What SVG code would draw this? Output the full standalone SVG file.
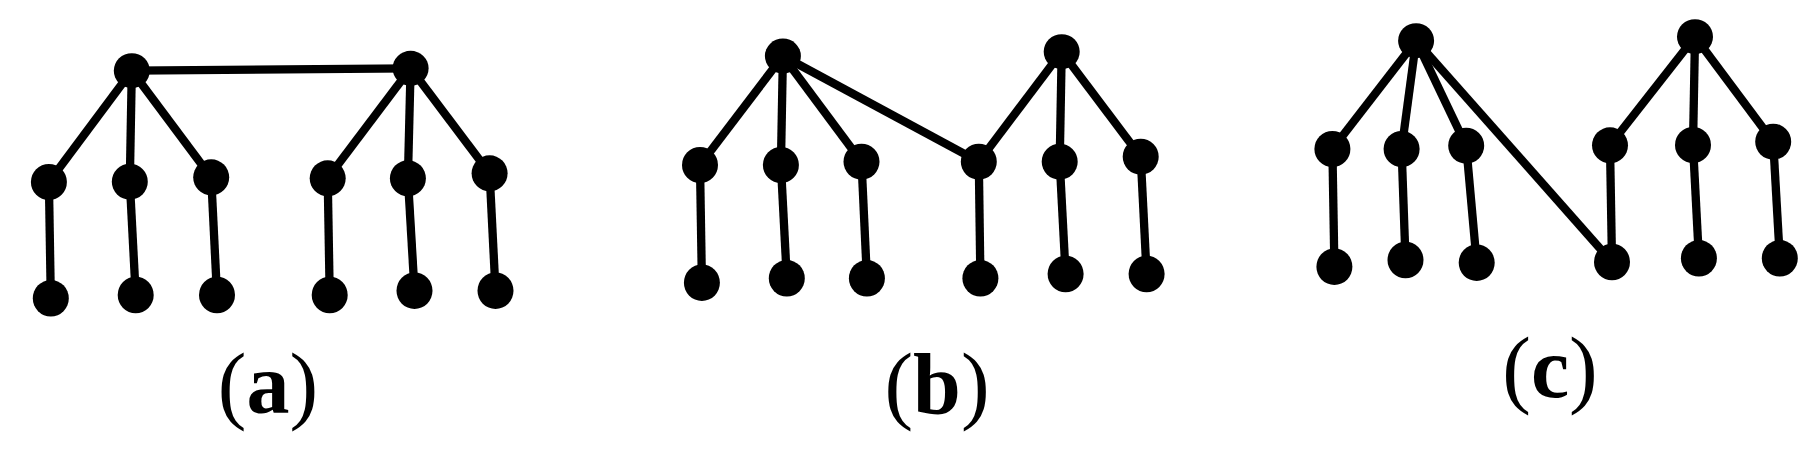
<svg xmlns="http://www.w3.org/2000/svg" width="1819" height="455" viewBox="0 0 1819 455">
<style>
.e{stroke:#000;stroke-width:8.3;fill:none}
.n{fill:#000}
.lbl{font-family:"Liberation Serif","Times New Roman",serif;font-size:86px;font-weight:normal;fill:#000;text-anchor:middle}
.b{font-weight:bold}
</style>
<rect width="1819" height="455" fill="#fff"/>
<g id="connectors">
<line class="e" x1="131.8" y1="70.7" x2="410.6" y2="68.3"/>
<line class="e" x1="131.8" y1="70.7" x2="48.9" y2="182"/>
<line class="e" x1="131.8" y1="70.7" x2="129.8" y2="181.7"/>
<line class="e" x1="131.8" y1="70.7" x2="211.2" y2="177.3"/>
<line class="e" x1="410.6" y1="68.3" x2="327.7" y2="178.3"/>
<line class="e" x1="410.6" y1="68.3" x2="407.9" y2="178.3"/>
<line class="e" x1="410.6" y1="68.3" x2="489.6" y2="173.3"/>
<line class="e" x1="48.9" y1="182" x2="50.8" y2="298.3"/>
<line class="e" x1="129.8" y1="181.7" x2="135.7" y2="295"/>
<line class="e" x1="211.2" y1="177.3" x2="217" y2="295"/>
<line class="e" x1="327.7" y1="178.3" x2="329.7" y2="295"/>
<line class="e" x1="407.9" y1="178.3" x2="414.5" y2="290.7"/>
<line class="e" x1="489.6" y1="173.3" x2="495.5" y2="290.7"/>
<line class="e" x1="782.9" y1="56" x2="700" y2="165"/>
<line class="e" x1="782.9" y1="56" x2="780.9" y2="165"/>
<line class="e" x1="782.9" y1="56" x2="861.5" y2="161.7"/>
<line class="e" x1="782.9" y1="56" x2="978.8" y2="161.7"/>
<line class="e" x1="1061.7" y1="51.7" x2="978.8" y2="161.7"/>
<line class="e" x1="1061.7" y1="51.7" x2="1059.7" y2="161.7"/>
<line class="e" x1="1061.7" y1="51.7" x2="1140.7" y2="156.7"/>
<line class="e" x1="700" y1="165" x2="701.9" y2="282.7"/>
<line class="e" x1="780.9" y1="165" x2="786.8" y2="278.3"/>
<line class="e" x1="861.5" y1="161.7" x2="866.9" y2="278.3"/>
<line class="e" x1="978.8" y1="161.7" x2="980.4" y2="278.3"/>
<line class="e" x1="1059.7" y1="161.7" x2="1065.6" y2="274"/>
<line class="e" x1="1140.7" y1="156.7" x2="1146.6" y2="274"/>
<line class="e" x1="1416.1" y1="40.7" x2="1332.4" y2="149"/>
<line class="e" x1="1416.1" y1="40.7" x2="1401.6" y2="149"/>
<line class="e" x1="1416.1" y1="40.7" x2="1466.2" y2="145.7"/>
<line class="e" x1="1416.1" y1="40.7" x2="1612" y2="262"/>
<line class="e" x1="1695" y1="36.7" x2="1610" y2="145.3"/>
<line class="e" x1="1695" y1="36.7" x2="1693" y2="145"/>
<line class="e" x1="1695" y1="36.7" x2="1773.2" y2="141.7"/>
<line class="e" x1="1332.4" y1="149" x2="1334.4" y2="266.7"/>
<line class="e" x1="1401.6" y1="149" x2="1405.5" y2="260"/>
<line class="e" x1="1466.2" y1="145.7" x2="1476.7" y2="262.7"/>
<line class="e" x1="1610" y1="145.3" x2="1612" y2="262"/>
<line class="e" x1="1693" y1="145" x2="1698.9" y2="258.3"/>
<line class="e" x1="1773.2" y1="141.7" x2="1779.8" y2="258.3"/>
</g>
<g id="nodes-a">
<ellipse id="a-r1" class="n" cx="131.8" cy="70.7" rx="18" ry="17.5"/>
<ellipse id="a-r2" class="n" cx="410.6" cy="68.3" rx="18" ry="17.5"/>
<ellipse id="a-m1" class="n" cx="48.9" cy="182" rx="18" ry="18"/>
<ellipse id="a-m2" class="n" cx="129.8" cy="181.7" rx="18" ry="18"/>
<ellipse id="a-m3" class="n" cx="211.2" cy="177.3" rx="18" ry="18"/>
<ellipse id="a-m4" class="n" cx="327.7" cy="178.3" rx="18" ry="18"/>
<ellipse id="a-m5" class="n" cx="407.9" cy="178.3" rx="18" ry="18"/>
<ellipse id="a-m6" class="n" cx="489.6" cy="173.3" rx="18" ry="18"/>
<ellipse id="a-l1" class="n" cx="50.8" cy="298.3" rx="18" ry="18.3"/>
<ellipse id="a-l2" class="n" cx="135.7" cy="295" rx="18" ry="18.3"/>
<ellipse id="a-l3" class="n" cx="217" cy="295" rx="18" ry="18.3"/>
<ellipse id="a-l4" class="n" cx="329.7" cy="295" rx="18" ry="18.3"/>
<ellipse id="a-l5" class="n" cx="414.5" cy="290.7" rx="18" ry="18.3"/>
<ellipse id="a-l6" class="n" cx="495.5" cy="290.7" rx="18" ry="18.3"/>
</g>
<g id="nodes-b">
<ellipse id="b-r1" class="n" cx="782.9" cy="56" rx="18" ry="17.5"/>
<ellipse id="b-r2" class="n" cx="1061.7" cy="51.7" rx="18" ry="17.5"/>
<ellipse id="b-m1" class="n" cx="700" cy="165" rx="18" ry="18"/>
<ellipse id="b-m2" class="n" cx="780.9" cy="165" rx="18" ry="18"/>
<ellipse id="b-m3" class="n" cx="861.5" cy="161.7" rx="18" ry="18"/>
<ellipse id="b-m4" class="n" cx="978.8" cy="161.7" rx="18" ry="18"/>
<ellipse id="b-m5" class="n" cx="1059.7" cy="161.7" rx="18" ry="18"/>
<ellipse id="b-m6" class="n" cx="1140.7" cy="156.7" rx="18" ry="18"/>
<ellipse id="b-l1" class="n" cx="701.9" cy="282.7" rx="18" ry="18.3"/>
<ellipse id="b-l2" class="n" cx="786.8" cy="278.3" rx="18" ry="18.3"/>
<ellipse id="b-l3" class="n" cx="866.9" cy="278.3" rx="18" ry="18.3"/>
<ellipse id="b-l4" class="n" cx="980.4" cy="278.3" rx="18" ry="18.3"/>
<ellipse id="b-l5" class="n" cx="1065.6" cy="274" rx="18" ry="18.3"/>
<ellipse id="b-l6" class="n" cx="1146.6" cy="274" rx="18" ry="18.3"/>
</g>
<g id="nodes-c">
<ellipse id="c-r1" class="n" cx="1416.1" cy="40.7" rx="18" ry="17.5"/>
<ellipse id="c-r2" class="n" cx="1695" cy="36.7" rx="18" ry="17.5"/>
<ellipse id="c-m1" class="n" cx="1332.4" cy="149" rx="18" ry="18"/>
<ellipse id="c-m2" class="n" cx="1401.6" cy="149" rx="18" ry="18"/>
<ellipse id="c-m3" class="n" cx="1466.2" cy="145.7" rx="18" ry="18"/>
<ellipse id="c-m4" class="n" cx="1610" cy="145.3" rx="18" ry="18"/>
<ellipse id="c-m5" class="n" cx="1693" cy="145" rx="18" ry="18"/>
<ellipse id="c-m6" class="n" cx="1773.2" cy="141.7" rx="18" ry="18"/>
<ellipse id="c-l1" class="n" cx="1334.4" cy="266.7" rx="18" ry="18.3"/>
<ellipse id="c-l2" class="n" cx="1405.5" cy="260" rx="18" ry="18.3"/>
<ellipse id="c-l3" class="n" cx="1476.7" cy="262.7" rx="18" ry="18.3"/>
<ellipse id="c-l4" class="n" cx="1612" cy="262" rx="18" ry="18.3"/>
<ellipse id="c-l5" class="n" cx="1698.9" cy="258.3" rx="18" ry="18.3"/>
<ellipse id="c-l6" class="n" cx="1779.8" cy="258.3" rx="18" ry="18.3"/>
</g>
<g id="labels">
<text class="lbl" font-family="Liberation Serif, serif" x="268" y="413">(<tspan class="b">a</tspan>)</text>
<text class="lbl" font-family="Liberation Serif, serif" x="937" y="413">(<tspan class="b">b</tspan>)</text>
<text class="lbl" font-family="Liberation Serif, serif" x="1550" y="397">(<tspan class="b">c</tspan>)</text>
</g>
</svg>
